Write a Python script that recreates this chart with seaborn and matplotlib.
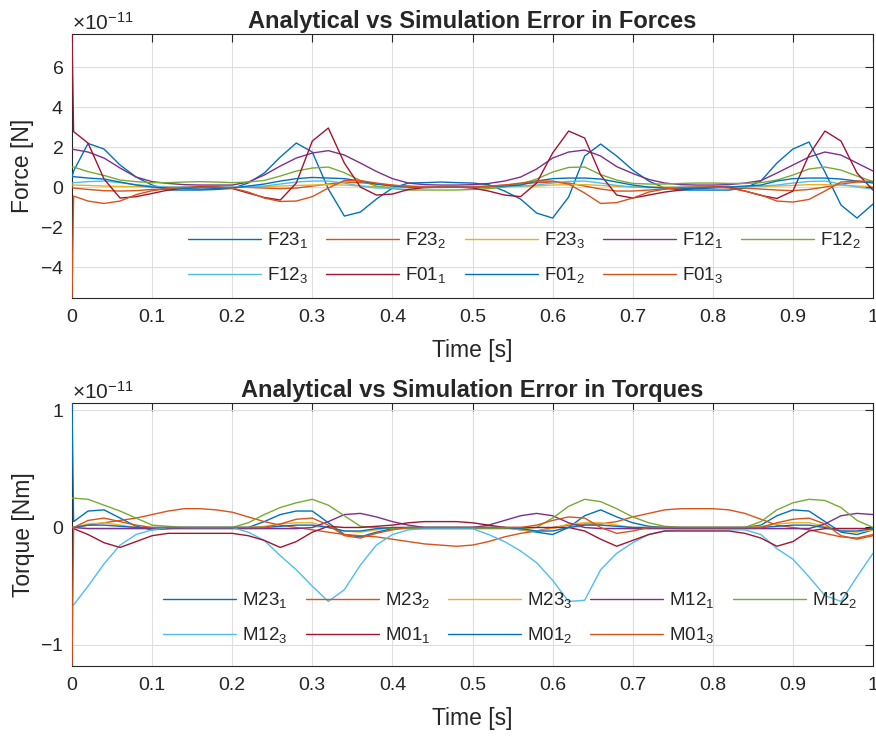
import numpy as np
import pandas as pd
import matplotlib
matplotlib.use("Agg")
import matplotlib.pyplot as plt
from matplotlib.ticker import ScalarFormatter, FuncFormatter
import seaborn as sns

# time grid (s): first sample holds the start-up spike
t = np.r_[0.0, 0.002, np.arange(1, 51) * 0.02]
SCALE = 1e-11

# ---- force errors (x 1e-11 N) ----
F23_1 = [0.5, 0.8,
         2.18, 1.9, 1.1, 0.5, 0.1, -0.15, -0.15, -0.15, -0.12, -0.07,
         0.2, 0.7, 1.5, 2.2, 1.75, -0.1, -1.45, -1.25, -0.6, -0.05,
         0.2, 0.22, 0.25, 0.22, 0.2, 0.12, -0.2, -0.6, -1.3, -1.55,
         -0.5, 1.55, 2.15, 1.55, 0.85, 0.3, -0.05, -0.15, -0.15, -0.15,
         -0.15, -0.05, 0.3, 1.2, 1.9, 2.25, 0.75, -0.9, -1.55, -0.85]
F23_2 = [0.0, -0.05,
         -0.12, -0.18, -0.2, -0.18, -0.12, -0.08, -0.05, -0.02, 0.0, 0.0,
         -0.02, -0.05, -0.08, -0.05, 0.05, 0.15, 0.25, 0.22, 0.15, 0.08,
         0.05, 0.02, 0.0, 0.0, 0.02, 0.05, 0.1, 0.15, 0.22, 0.25,
         0.2, 0.05, -0.1, -0.2, -0.2, -0.15, -0.1, -0.05, -0.02, 0.0,
         -0.02, -0.05, -0.1, -0.15, -0.18, -0.12, 0.0, 0.15, 0.25, 0.25]
F23_3 = [0.1, 0.1,
         0.08, 0.05, 0.03, 0.02, 0.01, 0.0, 0.0, 0.0, 0.0, 0.0,
         0.02, 0.03, 0.05, 0.08, 0.1, 0.12, 0.1, 0.05, 0.02, 0.0,
         0.0, 0.0, 0.0, 0.0, 0.0, 0.0, 0.02, 0.03, 0.05, 0.1,
         0.12, 0.12, 0.08, 0.03, 0.01, 0.0, 0.0, 0.0, 0.0, 0.0,
         0.0, 0.02, 0.03, 0.05, 0.08, 0.12, 0.12, 0.08, 0.05, 0.02]
F12_1 = [1.9, 1.88,
         1.75, 1.45, 0.95, 0.5, 0.27, 0.18, 0.12, 0.1, 0.1, 0.1,
         0.25, 0.6, 1.05, 1.45, 1.7, 1.82, 1.6, 1.2, 0.78, 0.42,
         0.2, 0.12, 0.1, 0.1, 0.12, 0.18, 0.3, 0.5, 0.9, 1.45,
         1.75, 1.85, 1.55, 1.02, 0.68, 0.38, 0.2, 0.12, 0.1, 0.1,
         0.12, 0.2, 0.32, 0.7, 1.1, 1.5, 1.75, 1.6, 1.2, 0.8]
F12_2 = [1.0, 1.0,
         0.77, 0.58, 0.35, 0.27, 0.22, 0.22, 0.25, 0.27, 0.25, 0.22,
         0.25, 0.33, 0.55, 0.8, 0.95, 1.0, 0.72, 0.33, 0.05, -0.08,
         -0.15, -0.15, -0.15, -0.15, -0.12, -0.08, 0.0, 0.15, 0.4, 0.75,
         0.98, 1.0, 0.62, 0.35, 0.18, 0.15, 0.15, 0.18, 0.2, 0.2,
         0.18, 0.18, 0.22, 0.35, 0.6, 0.9, 1.0, 0.85, 0.55, 0.27]
F12_3 = [0.2, 0.22,
         0.27, 0.3, 0.22, 0.12, 0.05, 0.0, 0.0, 0.0, 0.0, 0.0,
         0.02, 0.05, 0.15, 0.25, 0.3, 0.3, 0.2, 0.05, -0.05, -0.05,
         -0.03, 0.0, 0.0, 0.0, 0.0, 0.0, 0.02, 0.05, 0.1, 0.2,
         0.28, 0.3, 0.2, 0.08, 0.0, -0.03, -0.03, 0.0, 0.0, 0.0,
         0.0, 0.02, 0.05, 0.1, 0.2, 0.28, 0.3, 0.15, 0.0, -0.1]
F01_1 = [7.65, 2.77,
         2.2, 0.4, -0.55, -0.48, -0.32, -0.15, -0.05, 0.02, 0.0, -0.07,
         -0.3, -0.52, -0.65, 0.2, 2.3, 2.95, 1.2, 0.0, -0.4, -0.35,
         -0.12, -0.03, 0.0, 0.0, -0.05, -0.2, -0.4, -0.48, 0.2, 1.7,
         2.8, 2.45, 0.6, -0.4, -0.55, -0.4, -0.25, -0.15, -0.05, 0.0,
         0.0, -0.2, -0.42, -0.57, -0.2, 1.6, 2.8, 2.3, 0.7, -0.15]
F01_2 = [0.5, 0.52,
         0.45, 0.4, 0.25, 0.1, 0.0, -0.05, -0.08, -0.1, -0.08, -0.05,
         0.05, 0.15, 0.3, 0.42, 0.48, 0.45, 0.42, 0.3, 0.15, 0.05,
         0.0, -0.02, -0.02, 0.0, 0.0, 0.02, 0.05, 0.1, 0.3, 0.42,
         0.45, 0.45, 0.4, 0.25, 0.1, 0.0, -0.05, -0.08, -0.08, -0.05,
         0.0, 0.05, 0.1, 0.3, 0.42, 0.45, 0.45, 0.4, 0.3, 0.2]
F01_3 = [-5.55, -0.45,
         -0.7, -0.82, -0.7, -0.38, -0.18, -0.08, -0.02, 0.0, 0.0, -0.05,
         -0.25, -0.55, -0.72, -0.7, -0.48, -0.05, 0.33, 0.32, 0.2, 0.1,
         0.03, 0.0, 0.0, 0.0, 0.0, 0.03, 0.1, 0.2, 0.3, 0.3,
         0.15, -0.3, -0.82, -0.78, -0.55, -0.25, -0.1, -0.03, 0.0, 0.0,
         -0.05, -0.2, -0.4, -0.7, -0.75, -0.62, -0.2, 0.25, 0.3, 0.28]

# ---- torque errors (x 1e-11 Nm) ----
M23_1 = [1.06, 0.05,
         0.14, 0.15, 0.08, 0.01, -0.02, -0.01, 0.0, 0.0, 0.0, 0.0,
         0.0, 0.05, 0.11, 0.14, 0.14, 0.04, -0.06, -0.08, -0.04, -0.01,
         0.0, 0.0, 0.0, 0.0, 0.0, 0.0, 0.0, -0.02, -0.04, -0.06,
         0.0, 0.1, 0.15, 0.09, 0.04, 0.01, 0.0, 0.0, 0.0, 0.0,
         0.0, 0.0, 0.02, 0.1, 0.15, 0.14, 0.05, -0.04, -0.06, -0.02]
M23_2 = [0.0, 0.0,
         0.02, 0.04, 0.06, 0.08, 0.11, 0.14, 0.16, 0.16, 0.15, 0.13,
         0.09, 0.05, 0.02, 0.0, -0.02, -0.04, -0.06, -0.07, -0.08, -0.1,
         -0.12, -0.14, -0.15, -0.16, -0.15, -0.12, -0.08, -0.05, -0.03, 0.0,
         0.02, 0.03, 0.03, 0.05, 0.09, 0.12, 0.15, 0.16, 0.16, 0.16,
         0.15, 0.12, 0.07, 0.02, 0.0, -0.02, -0.05, -0.08, -0.09, -0.06]
M23_3 = [0.0, 0.0,
         0.03, 0.04, 0.02, 0.0, -0.01, 0.0, 0.0, 0.0, 0.0, 0.0,
         0.0, 0.01, 0.03, 0.04, 0.04, 0.0, -0.03, -0.04, -0.02, 0.0,
         0.0, 0.0, 0.0, 0.0, 0.0, 0.0, 0.0, -0.02, -0.03, -0.01,
         0.03, 0.04, 0.04, 0.02, 0.0, 0.0, 0.0, 0.0, 0.0, 0.0,
         0.0, 0.0, 0.01, 0.03, 0.04, 0.04, 0.01, -0.03, -0.04, -0.02]
M12_1 = [0.0, 0.0,
         -0.01, -0.01, -0.01, -0.01, -0.01, -0.01, -0.01, -0.01, -0.01, -0.01,
         -0.01, -0.01, -0.01, -0.01, 0.0, 0.05, 0.11, 0.12, 0.09, 0.05,
         0.02, 0.0, 0.0, 0.0, 0.0, 0.02, 0.06, 0.1, 0.12, 0.1,
         0.04, 0.0, -0.01, -0.01, -0.01, -0.01, -0.01, -0.01, -0.01, -0.01,
         -0.01, -0.01, -0.01, -0.01, -0.01, -0.01, 0.03, 0.1, 0.12, 0.11]
M12_2 = [0.25, 0.25,
         0.24, 0.19, 0.14, 0.08, 0.02, 0.01, 0.0, 0.0, 0.0, 0.0,
         0.04, 0.11, 0.17, 0.21, 0.24, 0.19, 0.1, 0.01, 0.0, -0.01,
         -0.01, -0.01, -0.01, -0.01, -0.01, -0.01, -0.01, -0.01, 0.0, 0.08,
         0.18, 0.24, 0.22, 0.16, 0.09, 0.04, 0.01, 0.0, 0.0, 0.0,
         0.0, 0.0, 0.05, 0.15, 0.21, 0.24, 0.23, 0.17, 0.06, 0.0]
M12_3 = [-0.67, -0.66,
         -0.5, -0.31, -0.15, -0.06, -0.02, 0.0, 0.0, 0.0, 0.0, 0.0,
         -0.04, -0.11, -0.24, -0.36, -0.5, -0.63, -0.53, -0.32, -0.15, -0.06,
         -0.02, -0.01, -0.01, -0.01, -0.01, -0.06, -0.12, -0.2, -0.3, -0.45,
         -0.63, -0.62, -0.36, -0.22, -0.13, -0.06, -0.03, -0.02, -0.02, -0.02,
         -0.02, -0.02, -0.06, -0.18, -0.27, -0.42, -0.58, -0.63, -0.42, -0.22]
M01_1 = [0.0, -0.01,
         -0.06, -0.13, -0.17, -0.12, -0.07, -0.05, -0.05, -0.05, -0.05, -0.05,
         -0.07, -0.11, -0.17, -0.12, -0.04, 0.01, 0.0, 0.0, 0.01, 0.02,
         0.04, 0.05, 0.05, 0.05, 0.04, 0.02, 0.0, 0.0, 0.0, 0.0,
         0.0, -0.03, -0.1, -0.16, -0.11, -0.06, -0.03, -0.03, -0.03, -0.03,
         -0.03, -0.05, -0.09, -0.16, -0.12, -0.03, -0.01, -0.01, -0.01, -0.01]
M01_2 = [0.0, 0.0,
         0.02, 0.02, 0.01, 0.0, 0.0, 0.0, 0.0, 0.0, 0.0, 0.0,
         0.0, 0.0, 0.01, 0.02, 0.02, 0.0, -0.03, -0.03, -0.01, 0.0,
         0.0, 0.0, 0.0, 0.0, 0.0, 0.0, 0.0, -0.01, -0.03, -0.03,
         0.0, 0.02, 0.02, 0.01, 0.0, 0.0, 0.0, 0.0, 0.0, 0.0,
         0.0, 0.0, 0.0, 0.01, 0.02, 0.02, 0.0, -0.03, -0.03, -0.01]
M01_3 = [-1.18, 0.0,
         0.06, 0.08, 0.05, 0.02, 0.0, 0.0, 0.0, 0.0, 0.0, 0.0,
         0.0, 0.0, 0.03, 0.07, 0.08, 0.02, -0.07, -0.09, -0.05, -0.02,
         0.0, 0.0, 0.0, 0.0, 0.0, 0.0, 0.0, 0.0, 0.02, 0.06,
         0.09, 0.08, 0.0, -0.05, -0.03, 0.0, 0.0, 0.0, 0.0, 0.0,
         0.0, 0.0, 0.0, 0.04, 0.07, 0.08, 0.03, -0.07, -0.1, -0.07]

force_names = ['F23$_1$', 'F23$_2$', 'F23$_3$', 'F12$_1$', 'F12$_2$',
               'F12$_3$', 'F01$_1$', 'F01$_2$', 'F01$_3$']
force_vals = [F23_1, F23_2, F23_3, F12_1, F12_2, F12_3, F01_1, F01_2, F01_3]
torque_names = ['M23$_1$', 'M23$_2$', 'M23$_3$', 'M12$_1$', 'M12$_2$',
                'M12$_3$', 'M01$_1$', 'M01$_2$', 'M01$_3$']
torque_vals = [M23_1, M23_2, M23_3, M12_1, M12_2, M12_3, M01_1, M01_2, M01_3]
xticks = [0, 0.1, 0.2, 0.3, 0.4, 0.5, 0.6, 0.7, 0.8, 0.9, 1]

matlab = ['#0072BD', '#D95319', '#EDB120', '#7E2F8E', '#77AC30',
          '#4DBEEE', '#A2142F', '#0072BD', '#D95319']

sns.set_style("white")
plt.rcParams['font.family'] = ['Liberation Sans', 'DejaVu Sans']
plt.rcParams['mathtext.fontset'] = 'custom'
plt.rcParams['mathtext.rm'] = 'Liberation Sans'
plt.rcParams['mathtext.it'] = 'Liberation Sans:italic'
plt.rcParams['axes.unicode_minus'] = False
INK = '#262626'


def draw(ax, names, vals, title, ylabel, ylim, yticks, leg_xy):
    df = pd.concat([pd.DataFrame({'t': t, 'v': np.array(v) * SCALE, 'name': n})
                    for n, v in zip(names, vals)], ignore_index=True)
    sns.lineplot(data=df, x='t', y='v', hue='name', hue_order=names,
                 palette=matlab, estimator=None, sort=False,
                 linewidth=1.0, zorder=3, ax=ax)
    ax.set_xlim(0, 1)
    ax.set_ylim(ylim[0] * SCALE, ylim[1] * SCALE)
    ax.set_xticks(xticks)
    ax.xaxis.set_major_formatter(FuncFormatter(lambda x, p: '%g' % x))
    ax.set_yticks([y * SCALE for y in yticks])
    fmt = ScalarFormatter(useMathText=True)
    fmt.set_powerlimits((0, 0))
    ax.yaxis.set_major_formatter(fmt)
    ax.yaxis.get_offset_text().set_fontsize(15)
    ax.yaxis.get_offset_text().set_color(INK)
    ax.tick_params(direction='in', top=True, right=True, length=6, width=0.8,
                   color=INK, labelcolor=INK, labelsize=14)
    ax.tick_params(axis='x', pad=8)
    ax.tick_params(axis='y', pad=6)
    ax.grid(True, color='#dedede', linewidth=0.8)
    ax.set_axisbelow(True)
    for s in ax.spines.values():
        s.set_color(INK)
        s.set_linewidth(0.8)
    ax.set_title(title, fontsize=17, fontweight='bold', pad=4)
    ax.set_xlabel('Time [s]', fontsize=16.5, color=INK, labelpad=9)
    ax.set_ylabel(ylabel, fontsize=16.5, color=INK, labelpad=4)

    # legend filled row by row, like the reference
    leg = ax.get_legend()
    handles = leg.legend_handles
    labels = [tx.get_text() for tx in leg.get_texts()]
    leg.remove()
    order = [0, 5, 1, 6, 2, 7, 3, 8, 4]
    ax.legend([handles[i] for i in order], [labels[i] for i in order],
              loc='center', bbox_to_anchor=leg_xy, ncol=5, frameon=False,
              fontsize=13.5, handlelength=3.9, handletextpad=0.32,
              columnspacing=0.95, labelspacing=0.8)


fig = plt.figure(figsize=(8.76, 7.36), dpi=100)
ax1 = fig.add_axes([0.0822, 0.595, 0.9144, 0.3588])
ax2 = fig.add_axes([0.0822, 0.0951, 0.9144, 0.3573])

draw(ax1, force_names, force_vals, 'Analytical vs Simulation Error in Forces',
     'Force [N]', (-5.55, 7.65), [-4, -2, 0, 2, 4, 6], (0.565, 0.152))
draw(ax2, torque_names, torque_vals, 'Analytical vs Simulation Error in Torques',
     'Torque [Nm]', (-1.18, 1.06), [-1, 0, 1], (0.547, 0.183))

fig.savefig('out.png', dpi=100)
